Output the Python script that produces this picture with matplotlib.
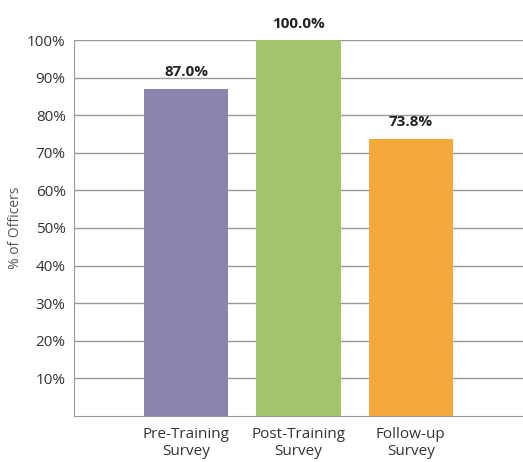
import matplotlib.pyplot as plt

plt.rcParams['font.family'] = ['Open Sans', 'DejaVu Sans']

# datos
categorias = ['Pre-Training\nSurvey', 'Post-Training\nSurvey', 'Follow-up\nSurvey']
porcentajes = [87.0, 100.0, 73.8]
colores = ['#8a85ae', '#a4c46b', '#f5a93b']
yticks = [10, 20, 30, 40, 50, 60, 70, 80, 90, 100]

fig = plt.figure(figsize=(5.23, 4.62), dpi=100)
ax = fig.add_axes([0.1415, 0.0996, 0.8585, 0.8138])

pos = range(len(categorias))
ax.bar(pos, porcentajes, width=0.75, color=colores, zorder=3)

for x, v in zip(pos, porcentajes):
    ax.text(x, v + 2.5, f'{v:.1f}%', ha='center', va='bottom',
            fontsize=11, fontweight='bold', color='#222222')

ax.set_xlim(-1, 3)
ax.set_ylim(0, 100)
ax.set_yticks(yticks)
ax.set_yticklabels([f'{t}%' for t in yticks])
ax.set_xticks(list(pos))
ax.set_xticklabels(categorias)
ax.yaxis.grid(True, color='#9a9a9a', linewidth=1, zorder=0)
ax.tick_params(length=0, labelsize=11, colors='#333333', pad=6)
ax.tick_params(axis='x', pad=8)
ax.set_ylabel('% of Officers', fontsize=10, color='#555555', labelpad=3)

for s in ['top', 'right']:
    ax.spines[s].set_visible(False)
ax.spines['left'].set_color('#9a9a9a')
ax.spines['bottom'].set_color('#9a9a9a')

fig.savefig('out.png', dpi=100)
